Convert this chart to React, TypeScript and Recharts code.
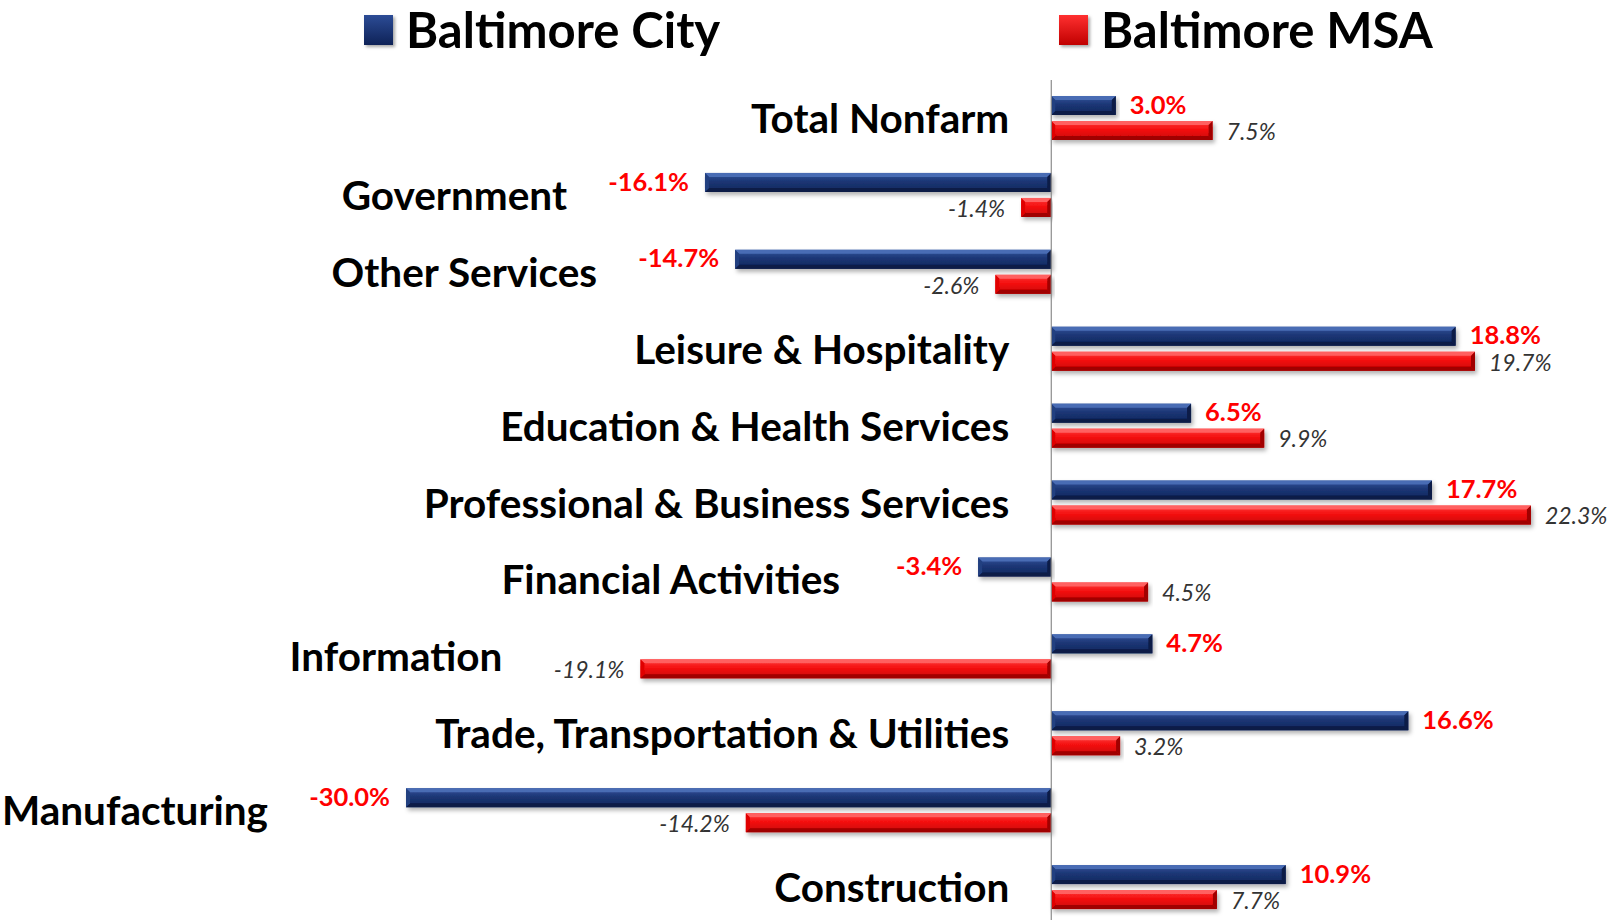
import React from "react";
import { BarChart, Bar, XAxis, YAxis, ReferenceLine, LabelList } from "recharts";

const categories = [
  "Total Nonfarm",
  "Government",
  "Other Services",
  "Leisure & Hospitality",
  "Education & Health Services",
  "Professional & Business Services",
  "Financial Activities",
  "Information",
  "Trade, Transportation & Utilities",
  "Manufacturing",
  "Construction",
];
const cityValues = [3.0, -16.1, -14.7, 18.8, 6.5, 17.7, -3.4, 4.7, 16.6, -30.0, 10.9];
const msaValues = [7.5, -1.4, -2.6, 19.7, 9.9, 22.3, 4.5, -19.1, 3.2, -14.2, 7.7];
const seriesNames = ["Baltimore City", "Baltimore MSA"];

const data = categories.map((name, i) => ({ name, city: cityValues[i], msa: msaValues[i] }));

const W = 1610;
const H = 926;
const AXIS_W = 10;
const M = { top: 80, right: 21, bottom: 0, left: 406 - AXIS_W };
const DOMAIN: [number, number] = [-30, 25];
const pxPer = (W - M.left - AXIS_W - M.right) / (DOMAIN[1] - DOMAIN[0]);
const zeroX = M.left + AXIS_W - DOMAIN[0] * pxPer;
const FONT = "Lato, 'Open Sans', sans-serif";

const renderCategoryTick = (props: any) => {
  const { y, payload } = props;
  const i = categories.indexOf(payload.value);
  const lo = Math.min(0, cityValues[i], msaValues[i]);
  const right = lo < 0 ? zeroX + lo * pxPer - 138 : zeroX - 42;
  return (
    <text x={right} y={y} dy="0.36em" textAnchor="end" fontFamily={FONT} fontWeight={700} fontSize={40.5} fill="#000">
      {payload.value}
    </text>
  );
};

const makeLabel = (style: any, shift: number) => (props: any) => {
  const x = Number(props.x);
  const width = Number(props.width);
  const y = Number(props.y);
  const height = Number(props.height);
  const value = Number(props.value);
  const left = Math.min(x, x + width);
  const right = Math.max(x, x + width);
  const neg = value < 0;
  return (
    <text
      x={neg ? left - 16 : right + 14}
      y={y + height / 2 + shift}
      dy="0.36em"
      textAnchor={neg ? "end" : "start"}
      {...style}
    >
      {value.toFixed(1)}%
    </text>
  );
};

const palette: Record<string, { top: string; side: string; bottom: string; grad: string }> = {
  city: { top: "#4a6cb4", side: "#223f80", bottom: "#0b1b47", grad: "url(#gradCity)" },
  msa: { top: "#ff6060", side: "#e00000", bottom: "#a00000", grad: "url(#gradMsa)" },
};

const makeShape = (key: string) => (props: any) => {
  const x = Number(props.x);
  const width = Number(props.width);
  const y = Number(props.y);
  const h = Number(props.height);
  const l = Math.min(x, x + width);
  const w = Math.abs(width);
  if (!w) return <g />;
  const r = l + w;
  const b = Math.min(4, w / 2);
  const c = palette[key];
  return (
    <g filter="url(#barShadow)">
      <rect x={l} y={y} width={w} height={h} fill={c.grad} />
      <polygon points={`${l},${y} ${r},${y} ${r - b},${y + b} ${l + b},${y + b}`} fill={c.top} />
      <polygon points={`${l},${y + h} ${r},${y + h} ${r - b},${y + h - b} ${l + b},${y + h - b}`} fill={c.bottom} />
      <polygon points={`${l},${y} ${l + b},${y + b} ${l + b},${y + h - b} ${l},${y + h}`} fill={c.side} />
      <polygon points={`${r},${y} ${r - b},${y + b} ${r - b},${y + h - b} ${r},${y + h}`} fill={c.bottom} />
    </g>
  );
};

function LegendItem({ label, color, dark, left }: { label: string; color: string; dark: string; left: number }) {
  return (
    <div style={{ position: "absolute", left, top: 0, display: "flex", alignItems: "center" }}>
      <div
        style={{
          width: 29,
          height: 30,
          marginRight: 13,
          background: `linear-gradient(${color}, ${dark})`,
          boxShadow: "2px 2px 3px rgba(0,0,0,0.35)",
        }}
      />
      <span style={{ fontFamily: FONT, fontWeight: 700, fontSize: 49, color: "#000", lineHeight: "59px" }}>{label}</span>
    </div>
  );
}

export default function App() {
  return (
    <div style={{ position: "fixed", left: 0, top: 0, width: W, height: 920, overflow: "hidden", background: "#fff" }}>
      <LegendItem label={seriesNames[0]} color="#2c4c96" dark="#0e2257" left={364} />
      <LegendItem label={seriesNames[1]} color="#ff3030" dark="#c00000" left={1059} />
      <BarChart
        width={W}
        height={H}
        data={data}
        layout="vertical"
        margin={M}
        barSize={19}
        barGap={6}
        barCategoryGap={16}
        style={{ position: "relative" }}
      >
        <defs>
          <linearGradient id="gradCity" x1="0" y1="0" x2="0" y2="1">
            <stop offset="0%" stopColor="#34549c" />
            <stop offset="45%" stopColor="#1c3675" />
            <stop offset="100%" stopColor="#10265c" />
          </linearGradient>
          <linearGradient id="gradMsa" x1="0" y1="0" x2="0" y2="1">
            <stop offset="0%" stopColor="#ff3a3a" />
            <stop offset="45%" stopColor="#f41010" />
            <stop offset="100%" stopColor="#c80000" />
          </linearGradient>
          <filter id="barShadow" x="-5%" y="-30%" width="110%" height="170%">
            <feDropShadow dx="2" dy="3" stdDeviation="2" floodColor="#000" floodOpacity="0.3" />
          </filter>
        </defs>
        <XAxis type="number" domain={DOMAIN} hide />
        <YAxis
          type="category"
          dataKey="name"
          width={AXIS_W}
          axisLine={false}
          tickLine={false}
          tick={renderCategoryTick}
          interval={0}
        />
        <ReferenceLine x={0} stroke="#8c8c8c" strokeWidth={1.2} />
        <Bar dataKey="city" name={seriesNames[0]} fill="#1c3675" shape={makeShape("city")} isAnimationActive={false}>
          <LabelList
            dataKey="city"
            content={makeLabel({ fontFamily: FONT, fontWeight: 700, fontSize: 25.5, fill: "#ff0000" }, -1)}
          />
        </Bar>
        <Bar dataKey="msa" name={seriesNames[1]} fill="#f41010" shape={makeShape("msa")} isAnimationActive={false}>
          <LabelList
            dataKey="msa"
            content={makeLabel({ fontFamily: FONT, fontStyle: "italic", fontSize: 23, fill: "#333" }, 1)}
          />
        </Bar>
      </BarChart>
    </div>
  );
}
